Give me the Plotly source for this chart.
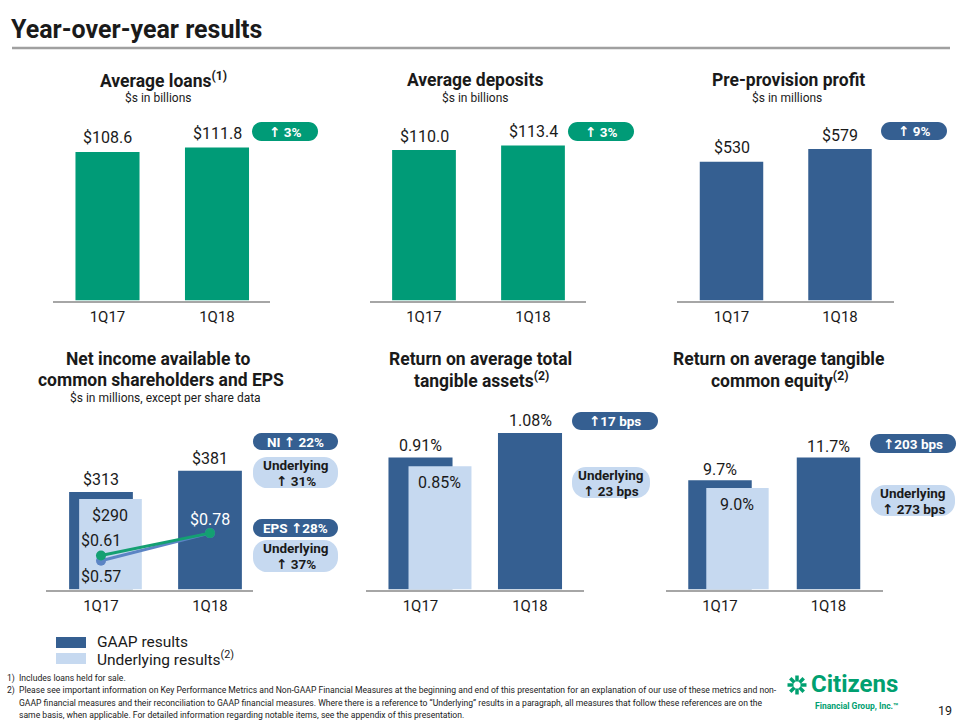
import math
import plotly.graph_objects as go

W, H = 960, 720
FONT = "Roboto, DejaVu Sans, sans-serif"
GREEN = "#009B77"
DARK = "#355F91"
LIGHT = "#C6D9F0"
MIDBLUE = "#5B84C4"
EPSGREEN = "#14A072"
TXT = "#1A1A1A"
AXIS = "#A6A6A6"

# ---------------- data ----------------
categories = ["1Q17", "1Q18"]
avg_loans = [108.6, 111.8]
avg_deposits = [110.0, 113.4]
pre_provision_profit = [530, 579]
net_income_gaap = [313, 381]
net_income_underlying = [290]          # 1Q17 only shown
eps_gaap = [0.61, 0.78]
eps_underlying = [0.57, 0.78]
rotta_gaap = [0.91, 1.08]
rotta_underlying = [0.85]
rotce_gaap = [9.7, 11.7]
rotce_underlying = [9.0]

badge_texts = {
    "loans": ["↑ 3%"],
    "deposits": ["↑ 3%"],
    "ppp": ["↑ 9%"],
    "ni": ["NI ↑ 22%"],
    "ni_u": ["Underlying", "↑ 31%"],
    "eps": ["EPS ↑28%"],
    "eps_u": ["Underlying", "↑ 37%"],
    "rotta": ["↑17 bps"],
    "rotta_u": ["Underlying", "↑ 23 bps"],
    "rotce": ["↑203 bps"],
    "rotce_u": ["Underlying", "↑ 273 bps"],
}

# sizes
S_TITLE = 25
S_PANEL = 17.5
S_SUB = 12
S_VAL = 16
S_TICK = 15
S_BADGE = 13.5
S_LEG = 15.5
S_FOOT = 8.6


def pxx(x):
    return x / W


def pxy(y):
    return 1 - y / H


# panel geometry (pixels): left, right, first category centre, unit, baseline, top, ymax
panels = [
    dict(l=53, r=270, c0=107.5, u=109.5, b=300.5, t=120, ymax=132.0),
    dict(l=370, r=586, c0=424, u=109.0, b=300.5, t=120, ymax=132.0),
    dict(l=677, r=894, c0=731.5, u=108.5, b=300.5, t=120, ymax=690.0),
    dict(l=46, r=253, c0=101, u=109.0, b=589.5, t=400, ymax=608.0),
    dict(l=366, r=584, c0=420.5, u=109.5, b=589.5, t=400, ymax=1.3076),
    dict(l=666, r=883, c0=720, u=108.5, b=589.5, t=400, ymax=16.81),
]

BW = 0.585
layout = dict(
    width=W, height=H, margin=dict(l=0, r=0, t=0, b=0),
    paper_bgcolor="white", plot_bgcolor="white",
    showlegend=False, barmode="overlay",
    font=dict(family=FONT, color=TXT),
)

for i, p in enumerate(panels, start=1):
    xa = f"xaxis{i}" if i > 1 else "xaxis"
    ya = f"yaxis{i}" if i > 1 else "yaxis"
    layout[xa] = dict(
        domain=[pxx(p["l"]), pxx(p["r"])],
        range=[(p["l"] - p["c0"]) / p["u"], (p["r"] - p["c0"]) / p["u"]],
        type="category", categoryorder="array", categoryarray=categories,
        showline=True, linecolor=AXIS, linewidth=1.5, ticks="",
        showgrid=False, zeroline=False, fixedrange=True,
        tickfont=dict(family=FONT, size=S_TICK, color=TXT),
        ticklabelstandoff=2,
        anchor="y" if i == 1 else f"y{i}",
    )
    layout[ya] = dict(
        domain=[pxy(p["b"]), pxy(p["t"])],
        range=[0, p["ymax"]], visible=False, fixedrange=True,
        anchor="x" if i == 1 else f"x{i}",
    )

# secondary axis for EPS in panel 4
layout["yaxis7"] = dict(overlaying="y4", range=[0.3514, 1.7914], visible=False,
                        side="right", anchor="x4", fixedrange=True)


def ax(i):
    return ("x" if i == 1 else f"x{i}"), ("y" if i == 1 else f"y{i}")


traces = []
annotations = []
shapes = []

gaap_series = [
    (1, avg_loans, GREEN, lambda v: f"${v:.1f}", 14),
    (2, avg_deposits, GREEN, lambda v: f"${v:.1f}", 14),
    (3, pre_provision_profit, DARK, lambda v: f"${v:.0f}", 14),
    (4, net_income_gaap, DARK, lambda v: f"${v:.0f}", 12),
    (5, rotta_gaap, DARK, lambda v: f"{v:.2f}%", 12),
    (6, rotce_gaap, DARK, lambda v: f"{v:.1f}%", 11),
]
underlying_series = [
    (4, net_income_underlying, 0.092, lambda v: f"${v:.0f}"),
    (5, rotta_underlying, 0.183, lambda v: f"{v:.2f}%"),
    (6, rotce_underlying, 0.166, lambda v: f"{v:.1f}%"),
]

for i, vals, col, fmt, ysh in gaap_series:
    xr, yr = ax(i)
    traces.append(go.Bar(x=categories, y=vals, xaxis=xr, yaxis=yr, marker_color=col,
                         marker_line_width=0, width=BW, offset=-BW / 2, hoverinfo="skip"))
    for c, v in zip(categories, vals):
        annotations.append(dict(x=c, y=v, xref=xr, yref=yr, text=fmt(v), showarrow=False,
                                yanchor="middle", yshift=ysh,
                                font=dict(family=FONT, size=S_VAL, color=TXT)))

for i, vals, sh, fmt in underlying_series:
    xr, yr = ax(i)
    p = panels[i - 1]
    traces.append(go.Bar(x=categories[:len(vals)], y=vals, xaxis=xr, yaxis=yr,
                         marker_color=LIGHT, marker_line_width=0, width=0.575,
                         offset=-BW / 2 + sh, hoverinfo="skip"))
    for c, v in zip(categories, vals):
        annotations.append(dict(x=c, y=v, xref=xr, yref=yr, text=fmt(v), showarrow=False,
                                yanchor="middle", yshift=-16,
                                xshift=(sh - BW / 2 + 0.575 / 2) * p["u"],
                                font=dict(family=FONT, size=S_VAL, color=TXT)))

# EPS lines
traces.append(go.Scatter(x=categories, y=eps_underlying, xaxis="x4", yaxis="y7", mode="lines+markers",
                         line=dict(color=MIDBLUE, width=3), marker=dict(size=10, color=MIDBLUE),
                         hoverinfo="skip"))
traces.append(go.Scatter(x=categories, y=eps_gaap, xaxis="x4", yaxis="y7", mode="lines+markers",
                         line=dict(color=EPSGREEN, width=3), marker=dict(size=10, color=EPSGREEN),
                         hoverinfo="skip"))
annotations.append(dict(x=categories[0], y=eps_gaap[0], xref="x4", yref="y7", text=f"${eps_gaap[0]:.2f}",
                        showarrow=False, yshift=15, font=dict(family=FONT, size=S_VAL, color=TXT)))
annotations.append(dict(x=categories[0], y=eps_underlying[0], xref="x4", yref="y7",
                        text=f"${eps_underlying[0]:.2f}", showarrow=False, yshift=-16,
                        font=dict(family=FONT, size=S_VAL, color=TXT)))
annotations.append(dict(x=categories[1], y=eps_gaap[1], xref="x4", yref="y7", text=f"${eps_gaap[1]:.2f}",
                        showarrow=False, yshift=14, font=dict(family=FONT, size=S_VAL, color="white")))


# ---------- decorations (paper pixels) ----------
def paper_text(text, x, y, size, color=TXT, anchor="center", bold=False):
    if bold:
        text = f"<b>{text}</b>"
    annotations.append(dict(x=pxx(x), y=pxy(y), xref="paper", yref="paper", text=text,
                            showarrow=False, xanchor=anchor, yanchor="middle",
                            font=dict(family=FONT, size=size, color=color)))


def pill(x0, y0, x1, y1, r, color):
    k = 0.5523 * r
    pts = (f"M{pxx(x0 + r)},{pxy(y0)} L{pxx(x1 - r)},{pxy(y0)} "
           f"C{pxx(x1 - r + k)},{pxy(y0)} {pxx(x1)},{pxy(y0 + r - k)} {pxx(x1)},{pxy(y0 + r)} "
           f"L{pxx(x1)},{pxy(y1 - r)} "
           f"C{pxx(x1)},{pxy(y1 - r + k)} {pxx(x1 - r + k)},{pxy(y1)} {pxx(x1 - r)},{pxy(y1)} "
           f"L{pxx(x0 + r)},{pxy(y1)} "
           f"C{pxx(x0 + r - k)},{pxy(y1)} {pxx(x0)},{pxy(y1 - r + k)} {pxx(x0)},{pxy(y1 - r)} "
           f"L{pxx(x0)},{pxy(y0 + r)} "
           f"C{pxx(x0)},{pxy(y0 + r - k)} {pxx(x0 + r - k)},{pxy(y0)} {pxx(x0 + r)},{pxy(y0)} Z")
    shapes.append(dict(type="path", xref="paper", yref="paper", path=pts,
                       fillcolor=color, line=dict(width=0), layer="above"))


# title
paper_text("Year-over-year results", 9, 30, S_TITLE, anchor="left", bold=True)
shapes.append(dict(type="line", xref="paper", yref="paper", x0=pxx(12), x1=pxx(950),
                   y0=pxy(48), y1=pxy(48), line=dict(color="#A0A0A0", width=2.5)))

# panel titles
paper_text("Average loans<sup>(1)</sup>", 163, 80, S_PANEL, bold=True)
paper_text("$s in billions", 158, 98, S_SUB)
paper_text("Average deposits", 475, 80, S_PANEL, bold=True)
paper_text("$s in billions", 475, 98, S_SUB)
paper_text("Pre-provision profit", 788, 80, S_PANEL, bold=True)
paper_text("$s in millions", 787, 98, S_SUB)
paper_text("Net income available to", 158, 359, S_PANEL, bold=True)
paper_text("common shareholders and EPS", 161, 380, S_PANEL, bold=True)
paper_text("$s in millions, except per share data", 165, 398, S_SUB)
paper_text("Return on average total", 480, 359, S_PANEL, bold=True)
paper_text("tangible assets<sup>(2)</sup>", 481, 380, S_PANEL, bold=True)
paper_text("Return on average tangible", 778, 359, S_PANEL, bold=True)
paper_text("common equity<sup>(2)</sup>", 779, 380, S_PANEL, bold=True)

# badges: (key, x0, y0, x1, y1, fill, textcolor, radius)
badges = [
    ("loans", 252, 122, 318, 141, GREEN, "white", None),
    ("deposits", 568, 122, 634, 141, GREEN, "white", None),
    ("ppp", 881, 122, 947, 140, DARK, "white", None),
    ("ni", 253, 433, 338, 450, DARK, "white", None),
    ("ni_u", 253, 457, 338, 488, LIGHT, TXT, 14),
    ("eps", 253, 519, 338, 537, DARK, "white", None),
    ("eps_u", 253, 540, 338, 572, LIGHT, TXT, 14),
    ("rotta", 572, 412, 658, 430, DARK, "white", None),
    ("rotta_u", 572, 467, 650, 498, LIGHT, TXT, 14),
    ("rotce", 870, 434, 956, 453, DARK, "white", None),
    ("rotce_u", 871, 485, 955, 516, LIGHT, TXT, 14),
]
for key, x0, y0, x1, y1, fill, tc, r in badges:
    rr = r if r is not None else (y1 - y0) / 2
    pill(x0, y0, x1, y1, rr, fill)
    lines = badge_texts[key]
    cx, cy = (x0 + x1) / 2, (y0 + y1) / 2
    if len(lines) == 1:
        paper_text(lines[0], cx, cy, S_BADGE, color=tc, bold=True)
    else:
        paper_text(lines[0], cx, cy - 8, S_BADGE, color=tc, bold=True)
        paper_text(lines[1], cx, cy + 8, S_BADGE, color=tc, bold=True)

# legend
shapes.append(dict(type="rect", xref="paper", yref="paper", x0=pxx(56), x1=pxx(86),
                   y0=pxy(648), y1=pxy(637), fillcolor=DARK, line=dict(width=0)))
shapes.append(dict(type="rect", xref="paper", yref="paper", x0=pxx(56), x1=pxx(86),
                   y0=pxy(664), y1=pxy(653), fillcolor=LIGHT, line=dict(width=0)))
paper_text("GAAP results", 95, 642, S_LEG, anchor="left")
paper_text("Underlying results<sup>(2)</sup>", 95, 658, S_LEG, anchor="left")

# footnotes
footnotes = [
    ("1)", "Includes loans held for sale."),
    ("2)", "Please see important information on Key Performance Metrics and Non-GAAP Financial Measures at the beginning and end of this presentation for an explanation of our use of these metrics and non-"),
    ("", "GAAP financial measures and their reconciliation to GAAP financial measures. Where there is a reference to “Underlying” results in a paragraph, all measures that follow these references are on the"),
    ("", "same basis, when applicable. For detailed information regarding notable items, see the appendix of this presentation."),
]
for k, (num, txt) in enumerate(footnotes):
    yy = 678 + k * 12.4
    if num:
        paper_text(num, 5, yy, S_FOOT, anchor="left")
    paper_text(txt, 17, yy, S_FOOT, anchor="left")

# logo
LOGO = "#00A070"
cxl, cyl = 797, 685
for a in range(8):
    ang = a * math.pi / 4
    x0 = cxl + 3.5 * math.cos(ang)
    y0 = cyl + 3.5 * math.sin(ang)
    x1 = cxl + 9.5 * math.cos(ang)
    y1 = cyl + 9.5 * math.sin(ang)
    shapes.append(dict(type="line", xref="paper", yref="paper", x0=pxx(x0), y0=pxy(y0),
                       x1=pxx(x1), y1=pxy(y1), line=dict(color=LOGO, width=3.5)))
paper_text("Citizens", 809, 684, 24, color=LOGO, anchor="left", bold=True)
paper_text("Financial Group, Inc.™", 813, 706, 8.5, color=LOGO, anchor="left", bold=True)
paper_text("19", 945, 710, 12.5)

layout["annotations"] = annotations
layout["shapes"] = shapes

fig = go.Figure(data=traces, layout=layout)
fig.write_html("out.html")
